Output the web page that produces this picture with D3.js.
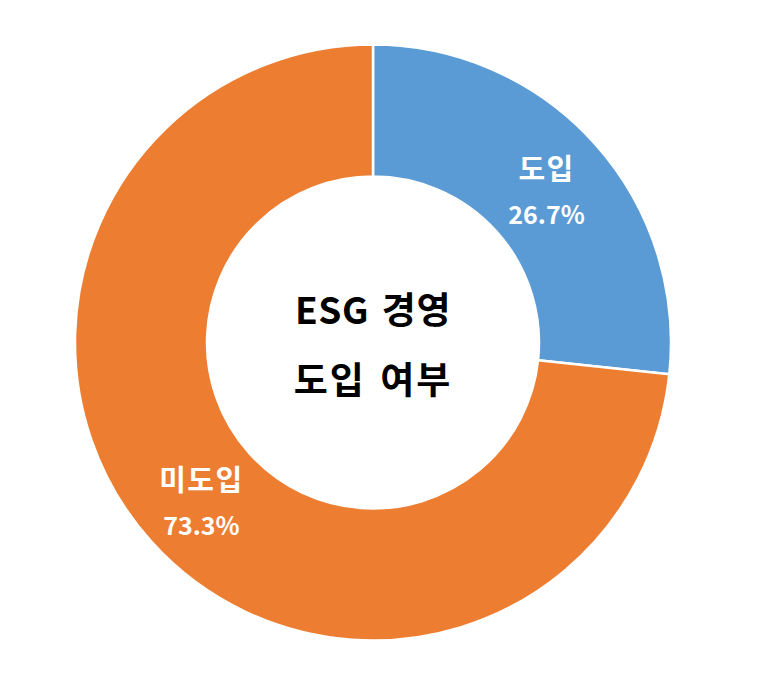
<!DOCTYPE html>
<html>
<head>
<meta charset="utf-8">
<script src="https://cdn.jsdelivr.net/npm/d3@7"></script>
<style>
html,body{margin:0;padding:0;background:#fff;}
svg{display:block;}
</style>
</head>
<body>
<svg id="chart" width="760" height="691"></svg>
<script>
const categories = ["도입", "미도입"];
const values = [26.7, 73.3];
const valueLabels = ["26.7%", "73.3%"];
const colors = ["#5B9BD5", "#ED7D31"];
const centerLines = ["ESG 경영", "도입 여부"];

const svg = d3.select("#chart");
const cx = 373, cy = 342.5, outerR = 298, innerR = 166;
const font = "'Noto Sans CJK KR', 'Noto Sans', sans-serif";

const g = svg.append("g").attr("transform", `translate(${cx},${cy})`);
const pie = d3.pie().sort(null).value(d => d)(values);
const arc = d3.arc().innerRadius(innerR).outerRadius(outerR);
const color = d3.scaleOrdinal().domain(categories).range(colors);

g.selectAll("path.slice").data(pie).join("path")
  .attr("class", "slice")
  .attr("d", arc)
  .attr("fill", (d, i) => color(categories[i]))
  .attr("stroke", "#fff")
  .attr("stroke-width", 2.5)
  .attr("stroke-linejoin", "round");

const labels = g.selectAll("g.lbl").data(pie).join("g")
  .attr("class", "lbl")
  .attr("transform", d => { const c = arc.centroid(d); return `translate(${c[0] + 1},${c[1] + 4})`; });

labels.append("text")
  .attr("text-anchor", "middle").attr("dominant-baseline", "central")
  .attr("y", -24)
  .attr("fill", "#fff").attr("font-family", font).attr("font-weight", "bold")
  .attr("font-size", 29).attr("letter-spacing", 1.5)
  .text((d, i) => categories[i]);

labels.append("text")
  .attr("text-anchor", "middle").attr("dominant-baseline", "central")
  .attr("y", 22)
  .attr("fill", "#fff").attr("font-family", font).attr("font-weight", "bold")
  .attr("font-size", 25)
  .text((d, i) => valueLabels[i]);

g.selectAll("text.center").data(centerLines).join("text")
  .attr("class", "center")
  .attr("text-anchor", "middle").attr("dominant-baseline", "central")
  .attr("y", (d, i) => i === 0 ? -35 : 35)
  .attr("fill", "#000").attr("font-family", font).attr("font-weight", "bold")
  .attr("font-size", 37)
  .attr("letter-spacing", (d, i) => i === 0 ? 0.5 : 2)
  .attr("word-spacing", (d, i) => i === 0 ? 4 : 4)
  .text(d => d);
</script>
</body>
</html>
